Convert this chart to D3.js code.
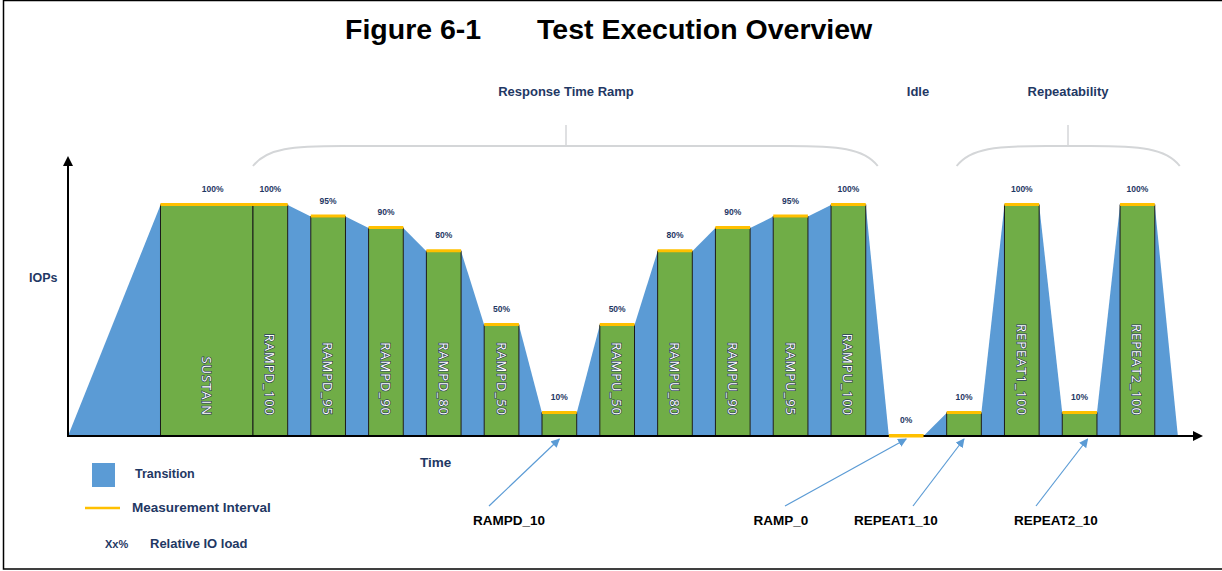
<!DOCTYPE html>
<html>
<head>
<meta charset="utf-8">
<script src="https://cdn.jsdelivr.net/npm/d3@7"></script>
<style>
  body { margin: 0; background: #fff; }
  svg { display: block; }
</style>
</head>
<body>
<svg id="plotarea"></svg>
<script>
// Test phases: name inside the bar, start/end time (arbitrary units), drawn IOPs level, load label
var phases     = ["SUSTAIN", "RAMPD_100", "RAMPD_95", "RAMPD_90", "RAMPD_80", "RAMPD_50", "RAMPD_10",
                  "RAMPU_50", "RAMPU_80", "RAMPU_90", "RAMPU_95", "RAMPU_100", "RAMP_0",
                  "REPEAT1_10", "REPEAT1_100", "REPEAT2_10", "REPEAT2_100"];
var barLabels  = ["SUSTAIN", "RAMPD_100", "RAMPD_95", "RAMPD_90", "RAMPD_80", "RAMPD_50", "",
                  "RAMPU_50", "RAMPU_80", "RAMPU_90", "RAMPU_95", "RAMPU_100", "",
                  "", "REPEAT1_100", "", "REPEAT2_100"];
var startTime  = [16, 32, 42, 52, 62, 72, 82, 92, 102, 112, 122, 132, 142, 152, 162, 172, 182];
var endTime    = [32, 38, 48, 58, 68, 78, 88, 98, 108, 118, 128, 138, 148, 158, 168, 178, 188];
var iops       = [100, 100, 95, 90, 80, 48, 10, 48, 80, 90, 95, 100, 0, 10, 100, 10, 100];
var loadLabels = ["100%", "100%", "95%", "90%", "80%", "50%", "10%", "50%", "80%", "90%", "95%", "100%",
                  "0%", "10%", "100%", "10%", "100%"];
var rampStart = 0, rampEnd = 192, timeMax = 196;

// Brackets over groups of phases (first/last phase index)
var groups     = ["Response Time Ramp", "Repeatability"];
var groupFrom  = [1, 13];
var groupTo    = [11, 16];

// Callouts for the short phases
var callouts    = ["RAMPD_10", "RAMP_0", "REPEAT1_10", "REPEAT2_10"];
var calloutLabX = [509, 781, 896, 1056];

var W = 1222, H = 571;
var blue = "#5B9BD5", green = "#70AD47", yellow = "#FFC000", navy = "#1F3864";

var svg = d3.select("#plotarea").attr("width", W).attr("height", H);

// frame
svg.append("rect")
    .attr("x", 3.5).attr("y", 0.5)
    .attr("width", W + 20).attr("height", 568.5)
    .attr("fill", "none").attr("stroke", "#000").attr("stroke-width", 1.5);

// title
svg.append("text")
    .attr("x", 345).attr("y", 39)
    .style("font-family", "'Liberation Sans', Arial, sans-serif")
    .style("font-weight", "bold").style("font-size", "28.5px")
    .text("Figure 6-1");
svg.append("text")
    .attr("x", 537).attr("y", 39)
    .style("font-family", "'Liberation Sans', Arial, sans-serif")
    .style("font-weight", "bold").style("font-size", "28.5px")
    .text("Test Execution Overview");

var x = d3.scaleLinear().domain([0, timeMax]).range([68, 1201]);
var y = d3.scaleLinear().domain([0, 100]).range([436, 205]);

var g = svg.append("g");

// Transitions: blue shapes between measurement intervals
var trans = [];
trans.push([[rampStart, 0], [startTime[0], iops[0]]]);
for (var i = 1; i < phases.length; i++) {
    if (startTime[i] > endTime[i - 1])
        trans.push([[endTime[i - 1], iops[i - 1]], [startTime[i], iops[i]]]);
}
trans.push([[endTime[phases.length - 1], iops[phases.length - 1]], [rampEnd, 0]]);

g.selectAll(".trans")
    .data(trans)
    .enter()
    .append("path")
    .attr("class", "trans")
    .attr("d", function (t) {
        return "M" + x(t[0][0]) + "," + y(0)
            + "L" + x(t[0][0]) + "," + y(t[0][1])
            + "L" + x(t[1][0]) + "," + y(t[1][1])
            + "L" + x(t[1][0]) + "," + y(0) + "Z";
    })
    .attr("fill", blue);

// Measurement bars
var idx = d3.range(phases.length);
g.selectAll(".bar")
    .data(idx.filter(function (i) { return iops[i] > 0; }))
    .enter()
    .append("rect")
    .attr("class", "bar")
    .attr("x", function (i) { return x(startTime[i]); })
    .attr("y", function (i) { return y(iops[i]); })
    .attr("width", function (i) { return x(endTime[i]) - x(startTime[i]); })
    .attr("height", function (i) { return y(0) - y(iops[i]); })
    .attr("fill", green)
    .attr("stroke", "#1a1a1a")
    .attr("stroke-width", 1);

// Measurement interval (yellow)
g.selectAll(".meas")
    .data(idx)
    .enter()
    .append("line")
    .attr("x1", function (i) { return x(startTime[i]); })
    .attr("x2", function (i) { return x(endTime[i]); })
    .attr("y1", function (i) { return y(iops[i]) - 0.5; })
    .attr("y2", function (i) { return y(iops[i]) - 0.5; })
    .attr("stroke", yellow)
    .attr("stroke-width", 3);

// Relative IO load labels
g.selectAll(".load")
    .data(idx)
    .enter()
    .append("text")
    .attr("x", function (i) { return x((startTime[i] + endTime[i]) / 2) + (i == 0 ? 6 : 0); })
    .attr("y", function (i) { return y(iops[i]) - 13; })
    .attr("text-anchor", "middle")
    .style("font-family", "'Liberation Sans', Arial, sans-serif")
    .style("font-weight", "bold").style("font-size", "8.5px")
    .attr("fill", navy)
    .text(function (i) { return loadLabels[i]; });

// Phase names, rotated inside the bars (white with a dark rim)
g.selectAll(".pname")
    .data(idx.filter(function (i) { return barLabels[i] != ""; }))
    .enter()
    .append("text")
    .attr("transform", function (i) {
        return "translate(" + x((startTime[i] + endTime[i]) / 2) + "," + 416 + ") rotate(90)";
    })
    .attr("text-anchor", "end")
    .attr("dominant-baseline", "central")
    .style("font-family", "'Open Sans', sans-serif")
    .style("font-size", "13px")
    .style("letter-spacing", "1px")
    .style("paint-order", "stroke")
    .attr("fill", "#ffffff")
    .attr("stroke", "#2b3a5c")
    .attr("stroke-width", 1.3)
    .text(function (i) { return barLabels[i]; });

// Axes
var defs = svg.append("defs");
defs.append("marker")
    .attr("id", "axarrow")
    .attr("viewBox", "0 0 10 10").attr("refX", 8).attr("refY", 5)
    .attr("markerWidth", 5).attr("markerHeight", 5)
    .attr("orient", "auto")
    .append("path").attr("d", "M0,0L10,5L0,10Z").attr("fill", "#000");
defs.append("marker")
    .attr("id", "bluearrow")
    .attr("viewBox", "0 0 10 10").attr("refX", 9).attr("refY", 5)
    .attr("markerWidth", 9).attr("markerHeight", 9)
    .attr("markerUnits", "userSpaceOnUse")
    .attr("orient", "auto")
    .append("path").attr("d", "M0,0L10,5L0,10Z").attr("fill", blue);

svg.append("line")
    .attr("x1", x(0)).attr("y1", y(0)).attr("x2", x(timeMax)).attr("y2", y(0))
    .attr("stroke", "#000").attr("stroke-width", 2)
    .attr("marker-end", "url(#axarrow)");
svg.append("line")
    .attr("x1", x(0)).attr("y1", y(0) + 1).attr("x2", x(0)).attr("y2", 158)
    .attr("stroke", "#000").attr("stroke-width", 2)
    .attr("marker-end", "url(#axarrow)");

// idle measurement sits on the axis: draw it on top
svg.append("line")
    .attr("x1", x(startTime[12])).attr("x2", x(endTime[12]))
    .attr("y1", y(0)).attr("y2", y(0))
    .attr("stroke", yellow).attr("stroke-width", 3);

var smallBold = function (sel, size, color) {
    return sel.style("font-family", "'Liberation Sans', Arial, sans-serif")
        .style("font-weight", "bold").style("font-size", size + "px")
        .attr("fill", color);
};

smallBold(svg.append("text").attr("x", 29).attr("y", 282).text("IOPs"), 12.5, navy);
smallBold(svg.append("text").attr("x", 420).attr("y", 467).text("Time"), 13.5, navy);

// Group brackets
var brace = function (x0, x1) {
    var top = 146, end = 166;
    return "M" + x0 + "," + end
        + "C" + (x0 + 14) + "," + (top + 2) + " " + (x0 + 40) + "," + top + " " + (x0 + 90) + "," + top
        + "L" + (x1 - 90) + "," + top
        + "C" + (x1 - 40) + "," + top + " " + (x1 - 14) + "," + (top + 2) + " " + x1 + "," + end;
};
groups.forEach(function (name, k) {
    var x0 = x(startTime[groupFrom[k]]) + (k == 0 ? 0 : 10);
    var x1 = x(endTime[groupTo[k]]) + (k == 0 ? 12 : 25);
    var cx = k == 0 ? 566 : 1068;
    svg.append("path").attr("d", brace(x0, x1))
        .attr("fill", "none").attr("stroke", "#d4d6d8").attr("stroke-width", 2);
    svg.append("line").attr("x1", cx).attr("x2", cx).attr("y1", 125).attr("y2", 146)
        .attr("stroke", "#d4d6d8").attr("stroke-width", 1.5);
    smallBold(svg.append("text").attr("x", cx).attr("y", 96)
        .attr("text-anchor", "middle").text(name), 13, navy);
});
smallBold(svg.append("text").attr("x", 918).attr("y", 96)
    .attr("text-anchor", "middle").text("Idle"), 13, navy);

// Callouts
callouts.forEach(function (name, k) {
    var i = phases.indexOf(name);
    var tx = x((startTime[i] + endTime[i]) / 2) + (k == 3 ? 8 : 0);
    svg.append("line")
        .attr("x1", calloutLabX[k] + (k == 1 ? 4 : (k == 2 ? 17 : -20))).attr("y1", 506)
        .attr("x2", tx).attr("y2", y(0) + 3)
        .attr("stroke", blue).attr("stroke-width", 1.2)
        .attr("marker-end", "url(#bluearrow)");
    smallBold(svg.append("text").attr("x", calloutLabX[k]).attr("y", 525)
        .attr("text-anchor", "middle").text(name), 13.5, "#000");
});

// Legend
svg.append("rect").attr("x", 92).attr("y", 463).attr("width", 23).attr("height", 24).attr("fill", blue);
smallBold(svg.append("text").attr("x", 135).attr("y", 478).text("Transition"), 12.5, navy);
svg.append("line").attr("x1", 85).attr("x2", 120).attr("y1", 508).attr("y2", 508)
    .attr("stroke", yellow).attr("stroke-width", 2.5);
smallBold(svg.append("text").attr("x", 132).attr("y", 512).text("Measurement Interval"), 13.5, navy);
smallBold(svg.append("text").attr("x", 105).attr("y", 548).text("Xx%"), 11, navy);
smallBold(svg.append("text").attr("x", 150).attr("y", 548).text("Relative IO load"), 13, navy);
</script>
</body>
</html>
